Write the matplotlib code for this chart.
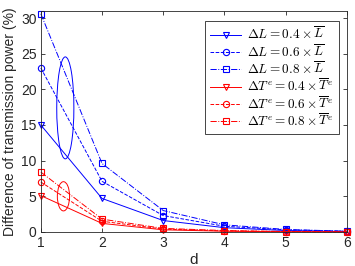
import matplotlib
matplotlib.use('Agg')
import matplotlib.pyplot as plt
from matplotlib.patches import Ellipse

plt.rcParams['font.family'] = ['Liberation Sans', 'DejaVu Sans']
plt.rcParams['mathtext.fontset'] = 'cm'

# data
d = [1, 2, 3, 4, 5, 6]
L04 = [15.0, 4.7, 1.6, 0.6, 0.2, 0.05]
L06 = [23.0, 7.1, 2.3, 0.8, 0.3, 0.1]
L08 = [30.6, 9.6, 3.0, 1.0, 0.35, 0.1]
T04 = [5.1, 1.2, 0.3, 0.1, 0.03, 0.0]
T06 = [7.0, 1.5, 0.4, 0.15, 0.05, 0.0]
T08 = [8.4, 1.8, 0.5, 0.2, 0.06, 0.0]

labels = [r'$\Delta L = 0.4 \times \overline{L}$',
          r'$\Delta L = 0.6 \times \overline{L}$',
          r'$\Delta L = 0.8 \times \overline{L}$',
          r'$\Delta T^e = 0.4 \times \overline{T}^e$',
          r'$\Delta T^e = 0.6 \times \overline{T}^e$',
          r'$\Delta T^e = 0.8 \times \overline{T}^e$']

fig = plt.figure(figsize=(3.55, 2.66), dpi=100)
ax = fig.add_axes([0.115, 0.128, 0.862, 0.831])

series = [(L04, 'b', 'v', '-'), (L06, 'b', 'o', '--'), (L08, 'b', 's', '-.'),
          (T04, 'r', 'v', '-'), (T06, 'r', 'o', '--'), (T08, 'r', 's', '-.')]
for (vals, c, m, ls), lab in zip(series, labels):
    ax.plot(d, vals, color=c, marker=m, linestyle=ls, lw=0.7, ms=4.5,
            mfc='none', mew=0.8, label=lab, clip_on=False)

# ellipses marking the groups
ax.add_patch(Ellipse((1.4, 17.4), 0.28, 14.3, fill=False, ec='b', lw=0.7))
ax.add_patch(Ellipse((1.37, 5.0), 0.2, 4.1, fill=False, ec='r', lw=0.7))

ax.set_xlim(1, 6)
ax.set_ylim(0, 31)
ax.set_xticks(d)
ax.set_yticks([0, 5, 10, 15, 20, 25, 30])
ax.tick_params(direction='in', top=True, right=True, length=3, width=0.6,
               labelsize=10, colors='#262626', pad=3)
for s in ax.spines.values():
    s.set_color('#262626')
    s.set_linewidth(0.6)
ax.set_xlabel('d', fontsize=11, color='#262626', labelpad=2)
ax.set_ylabel('Difference of transmission power (%)', fontsize=10,
              color='#262626', labelpad=3)

leg = ax.legend(loc='upper right', fontsize=9.5, fancybox=False, framealpha=1,
                edgecolor='#262626', handlelength=2.3, labelspacing=0.08,
                borderpad=0.4, handletextpad=0.5, borderaxespad=0,
                bbox_to_anchor=(0.974, 0.955))
leg.get_frame().set_linewidth(0.6)

plt.savefig('out.png', dpi=100)
